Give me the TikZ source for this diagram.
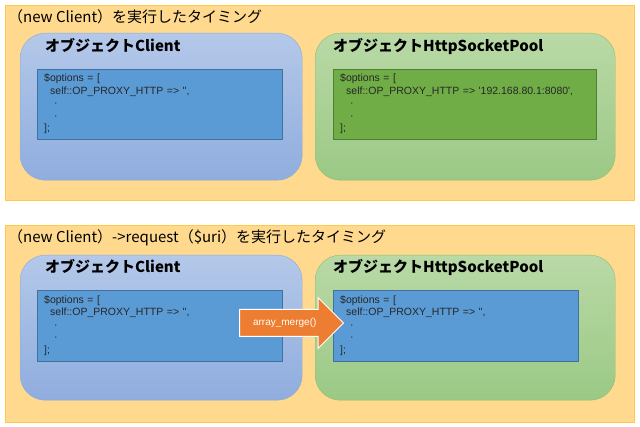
\documentclass[tikz,border=0pt]{standalone}
\usepackage{fontspec}
\setmainfont{Liberation Sans}
\newfontfamily\jp{Noto Sans CJK JP}
\usepackage{tikz}
\usetikzlibrary{shapes.arrows}
\definecolor{bgorange}{HTML}{FFD98E}
\definecolor{bgline}{HTML}{FFC94A}
\definecolor{bluetop}{HTML}{B4C8E9}
\definecolor{bluebot}{HTML}{8FADDE}
\definecolor{blueline}{HTML}{8EAADB}
\definecolor{greentop}{HTML}{B9D9A6}
\definecolor{greenbot}{HTML}{9BC985}
\definecolor{greenline}{HTML}{8CC06E}
\definecolor{codeblue}{HTML}{5B9BD5}
\definecolor{codeblueline}{HTML}{41719C}
\definecolor{codegreen}{HTML}{70AD47}
\definecolor{codegreenline}{HTML}{507E32}
\definecolor{mergeorange}{HTML}{ED7D31}

\begin{document}
\begin{tikzpicture}[x=1pt,y=-1pt,
  panel/.style={draw=bgline,fill=bgorange,anchor=north west,inner sep=0pt,minimum width=629pt},
  title/.style={anchor=west,inner sep=0pt,font=\jp\fontsize{15}{17}\selectfont},
  objblue/.style={draw=blueline,top color=bluetop,bottom color=bluebot,rounded corners=25pt,anchor=north west,inner sep=0pt,minimum width=282pt},
  objgreen/.style={draw=greenline,top color=greentop,bottom color=greenbot,rounded corners=25pt,anchor=north west,inner sep=0pt,minimum width=300pt},
  head/.style={anchor=west,inner sep=0pt,font=\jp\bfseries\fontsize{15}{17}\selectfont},
  code/.style={anchor=north west,inner sep=0pt,inner xsep=7pt,align=left,text width=#1,text=black!85,
    font=\fontsize{10.5}{12.5}\selectfont},
  mergearrow/.style={single arrow,fill=mergeorange,draw=white,line width=1pt,text=white,
    single arrow head extend=12pt,inner ysep=8pt,inner xsep=4pt,text height=8pt,text depth=2pt,
    minimum height=104pt,font=\fontsize{10}{12}\selectfont}]
\useasboundingbox (0,0) rectangle (640,427);

% (new Client)
\node [panel,minimum height=195pt] (t1) at (5,5) {};
\node [title] (t1title) at (8,17) {（new Client）を実行したタイミング};
\node [objblue,minimum height=147pt] (c1) at (20,33) {};
\node [head] (c1head) at (45,46) {オブジェクトClient};
\node [draw=codeblueline,fill=codeblue,code=231pt,minimum width=245pt,minimum height=70pt] (c1code) at (37,69)
  {\$options = [\\
   \hspace*{6pt}self::OP\_PROXY\_HTTP => \textquotesingle\textquotesingle,\\
   \hspace*{10pt}·\\
   \hspace*{10pt}·\\
   ];};
\node [objgreen,minimum height=147pt] (p1) at (315,33) {};
\node [head] (p1head) at (333,46) {オブジェクトHttpSocketPool};
\node [draw=codegreenline,fill=codegreen,code=249pt,minimum width=263pt,minimum height=70pt] (p1code) at (333,69)
  {\$options = [\\
   \hspace*{6pt}self::OP\_PROXY\_HTTP => \textquotesingle 192.168.80.1:8080\textquotesingle,\\
   \hspace*{10pt}·\\
   \hspace*{10pt}·\\
   ];};

% (new Client)->request($uri)
\node [panel,minimum height=197pt] (t2) at (5,225) {};
\node [title] (t2title) at (8,238) {（new Client）->request（\$uri）を実行したタイミング};
\node [objblue,minimum height=145pt] (c2) at (20,255) {};
\node [head] (c2head) at (45,267) {オブジェクトClient};
\node [draw=codeblueline,fill=codeblue,code=231pt,minimum width=245pt,minimum height=71pt] (c2code) at (37,290)
  {\$options = [\\
   \hspace*{6pt}self::OP\_PROXY\_HTTP => \textquotesingle\textquotesingle,\\
   \hspace*{10pt}·\\
   \hspace*{10pt}·\\
   ];};
\node [objgreen,minimum height=145pt] (p2) at (315,255) {};
\node [head] (p2head) at (333,267) {オブジェクトHttpSocketPool};
\node [draw=codeblueline,fill=codeblue,code=231pt,minimum width=245pt,minimum height=71pt] (p2code) at (333,290)
  {\$options = [\\
   \hspace*{6pt}self::OP\_PROXY\_HTTP => \textquotesingle\textquotesingle,\\
   \hspace*{10pt}·\\
   \hspace*{10pt}·\\
   ];};
\node [mergearrow,anchor=tail] (merge) at (239,323) {array\_merge()};
\end{tikzpicture}
\end{document}
